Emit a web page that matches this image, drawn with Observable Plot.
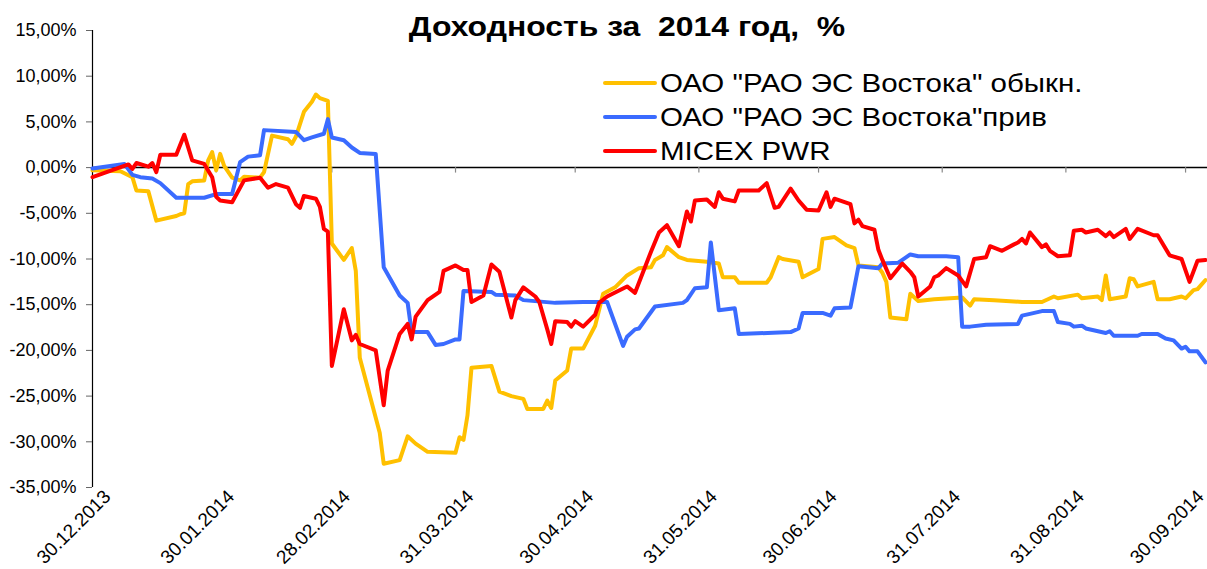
<!DOCTYPE html>
<html><head><meta charset="utf-8">
<script src="https://cdn.jsdelivr.net/npm/d3@7"></script>
<script src="https://cdn.jsdelivr.net/npm/@observablehq/plot@0.6"></script>
<style>
body{margin:0;background:#fff;font-family:"Liberation Sans",Arial,sans-serif;}
#wrap{position:relative;width:1207px;height:569px;overflow:hidden;}
#title{position:absolute;left:0;width:1254px;top:11px;text-align:center;font-weight:bold;font-size:28px;white-space:pre;color:#000;transform:scaleX(1.14);transform-origin:627px 0;}
#legend{position:absolute;left:603px;top:66px;font-size:25px;color:#000;}
.item{display:flex;align-items:center;height:34px;white-space:pre;}
.sw{width:54px;height:4px;border-radius:2px;margin-right:3px;flex:none;}
.tx{display:inline-block;transform:scaleX(1.18);transform-origin:0 50%;}
</style>
</head><body>
<div id="wrap"><div id="chart"></div><div id="title"></div><div id="legend"></div></div>
<script>
const titleText = "Доходность за  2014 год,  %";
const startDate = "2013-12-30";
const endDay = 279.5; // right edge of the plot, days after start
const seriesNames = ["ОАО \"РАО ЭС Востока\" обыкн.", "ОАО \"РАО ЭС Востока\"прив", "MICEX PWR"];
const seriesColors = ["#FFC000", "#3A6BFF", "#FF0000"];
const tickLabels = ["30.12.2013","30.01.2014","28.02.2014","31.03.2014","30.04.2014","31.05.2014","30.06.2014","31.07.2014","31.08.2014","30.09.2014"];
const yTicks = [15,10,5,0,-5,-10,-15,-20,-25,-30,-35];

// [days after 30.12.2013, return %]
const ordinary = [[0,-0.3],[7,-0.4],[10,-1.05],[11,-2.5],[14,-2.6],[16,-5.8],[21,-5.3],[22,-5.1],[23,-5.0],[24,-1.8],[25,-1.5],[28,-1.4],[29,0.8],[30,1.7],[31,-0.3],[32,1.5],[33,0.2],[35,-1.1],[37,-1.4],[38,-1.0],[42,-1.1],[43,-0.5],[45,3.5],[49,3.1],[50,2.6],[51,3.4],[53,6.1],[55,7.2],[56,8.0],[57,7.6],[59,7.3],[60,-8.3],[63,-10.1],[65,-8.8],[66,-11.3],[67,-20.8],[72,-29.0],[73,-32.4],[77,-32.0],[79,-29.4],[81,-30.2],[84,-31.1],[91,-31.2],[92,-29.5],[93,-29.8],[94,-27.1],[95,-21.9],[100,-21.7],[102,-24.5],[105,-25.0],[108,-25.3],[109,-26.4],[113,-26.4],[114,-25.5],[115,-26.3],[116,-23.3],[119,-22.2],[120,-19.8],[123,-19.8],[126,-17.3],[128,-13.8],[131,-13.1],[134,-11.8],[137,-11.0],[140,-10.9],[141,-10.1],[143,-9.6],[144,-8.7],[147,-9.8],[149,-10.1],[154,-10.3],[157,-10.5],[158,-12.0],[161,-12.0],[162,-12.6],[169,-12.6],[170,-12.0],[172,-9.8],[173,-10.0],[177,-10.3],[178,-12.0],[182,-11.1],[183,-7.8],[186,-7.6],[189,-8.5],[191,-8.8],[192,-10.7],[197,-10.9],[198,-11.5],[199,-12.5],[200,-16.4],[204,-16.6],[205,-13.8],[207,-14.6],[211,-14.4],[218,-14.2],[220,-15.1],[221,-14.4],[226,-14.5],[233,-14.7],[238,-14.7],[241,-14.1],[242,-14.3],[247,-13.9],[248,-14.3],[252,-14.1],[253,-14.5],[254,-11.8],[255,-14.4],[259,-14.1],[260,-12.1],[261,-12.2],[262,-13.0],[266,-12.5],[267,-14.4],[270,-14.4],[273,-14.1],[274,-14.3],[276,-13.4],[277,-13.3],[279,-12.3]];
const preferred = [[0,-0.1],[8,0.4],[10,-0.8],[12,-1.05],[15,-1.2],[17,-1.7],[21,-3.3],[28,-3.3],[31,-2.9],[35,-2.9],[37,0.6],[39,1.2],[42,1.35],[43,4.1],[51,3.9],[53,3.0],[55,3.3],[58,3.7],[59,5.3],[60,3.3],[63,3.0],[65,2.2],[67,1.6],[71,1.5],[73,-10.9],[77,-14.0],[79,-14.8],[80,-18.0],[84,-18.0],[86,-19.4],[88,-19.3],[91,-18.8],[92,-18.8],[93,-13.5],[100,-13.6],[101,-13.9],[106,-14.0],[108,-14.5],[116,-14.8],[123,-14.7],[129,-14.7],[133,-19.5],[134,-18.5],[136,-17.7],[137,-17.6],[141,-15.2],[148,-14.8],[149,-14.5],[151,-13.2],[154,-13.1],[155,-8.2],[157,-15.6],[161,-15.4],[162,-18.2],[175,-18.0],[177,-17.6],[178,-15.9],[183,-15.9],[185,-16.2],[186,-15.4],[190,-15.3],[192,-10.8],[197,-11.0],[198,-10.5],[202,-10.4],[205,-9.5],[207,-9.7],[214,-9.7],[217,-9.8],[218,-17.4],[220,-17.4],[224,-17.2],[232,-17.1],[233,-16.2],[235,-16.0],[238,-15.7],[241,-15.7],[242,-16.9],[245,-17.1],[246,-17.4],[248,-17.3],[249,-17.6],[254,-18.1],[255,-17.9],[256,-18.4],[262,-18.4],[263,-18.2],[267,-18.2],[269,-18.7],[271,-18.9],[273,-19.8],[274,-19.6],[275,-20.1],[277,-20.1],[279,-21.3]];
const micex = [[0,-1.05],[9,0.35],[10,-0.15],[11,0.5],[14,0.1],[15,0.5],[16,-0.5],[17,1.4],[21,1.4],[23,3.6],[25,0.8],[28,0.4],[30,-1.05],[31,-3.2],[32,-3.6],[35,-3.8],[38,-1.4],[42,-1.1],[44,-2.2],[46,-1.8],[49,-2.2],[51,-4.0],[52,-4.4],[53,-3.1],[56,-3.4],[57,-4.3],[58,-6.7],[59,-7.0],[60,-21.7],[63,-15.5],[65,-18.9],[66,-18.3],[67,-19.3],[71,-20.0],[73,-26.0],[74,-22.2],[77,-18.2],[79,-17.1],[80,-18.8],[81,-16.3],[84,-14.5],[87,-13.6],[88,-11.3],[91,-10.7],[93,-11.2],[94,-11.2],[95,-14.7],[98,-14.0],[100,-10.6],[102,-11.4],[105,-16.4],[106,-14.5],[108,-13.1],[111,-14.1],[112,-14.7],[114,-17.7],[115,-19.3],[116,-16.8],[119,-16.9],[120,-17.4],[121,-16.8],[123,-17.4],[126,-16.1],[127,-14.8],[129,-14.1],[134,-13.0],[136,-13.7],[140,-9.2],[142,-7.1],[144,-6.3],[147,-8.6],[149,-4.8],[150,-5.9],[151,-3.6],[154,-3.5],[156,-4.3],[157,-2.7],[158,-3.4],[161,-3.7],[162,-2.5],[167,-2.5],[169,-1.7],[171,-4.4],[172,-4.3],[175,-2.3],[177,-3.6],[179,-4.6],[182,-4.7],[184,-2.7],[185,-4.3],[186,-3.4],[190,-4.0],[191,-6.1],[192,-5.7],[193,-6.4],[196,-6.8],[197,-9.0],[198,-10.1],[200,-12.1],[203,-10.5],[205,-11.4],[206,-12.0],[207,-14.1],[210,-13.0],[211,-12.0],[212,-11.8],[214,-11.0],[217,-11.8],[219,-13.0],[221,-10.0],[224,-9.8],[225,-8.6],[228,-9.1],[231,-8.4],[232,-8.2],[233,-7.8],[234,-8.3],[235,-7.1],[238,-8.7],[239,-8.4],[240,-9.1],[242,-9.7],[245,-9.6],[246,-6.9],[248,-6.8],[249,-7.1],[252,-6.8],[254,-7.5],[255,-7.1],[256,-7.6],[259,-6.7],[260,-7.8],[262,-6.7],[266,-7.4],[267,-7.4],[270,-9.6],[273,-10.0],[275,-12.5],[277,-10.2],[279,-10.1]];

const start = new Date(startDate + "T00:00:00Z");
const end = new Date(+start + endDay * 864e5);
const parseTick = d3.utcParse("%d.%m.%Y");
const tickDates = tickLabels.map(parseTick);
const allSeries = [ordinary, preferred, micex];
const rows = allSeries.flatMap((s, k) => s.map(([d, v]) => ({date: d3.utcDay.offset(start, d), value: v, series: seriesNames[k]})));
const pct = d => d.toFixed(2).replace(".", ",").replace("-0,00", "0,00") + "%";

const chart = Plot.plot({
  width: 1207, height: 569,
  marginLeft: 92, marginRight: 0, marginTop: 30, marginBottom: 82,
  style: {fontFamily: "'Liberation Sans', Arial, sans-serif", color: "#000", background: "transparent", overflow: "visible"},
  x: {type: "utc", domain: [start, end]},
  y: {domain: [-35, 15]},
  color: {domain: seriesNames, range: seriesColors},
  marks: [
    Plot.ruleX([start], {stroke: "#000", strokeWidth: 1.2}),
    Plot.ruleY([0], {stroke: "#000", strokeWidth: 1.5}),
    Plot.ruleX(tickDates.slice(1), {y1: 0, y2: -0.6, stroke: "#888", strokeWidth: 1.2}),
    Plot.axisY({ticks: yTicks, tickFormat: pct, tickSize: 6, tickPadding: 10, fontSize: 18, label: null, stroke: "#666"}),
    Plot.axisX({ticks: tickDates, tickFormat: d3.utcFormat("%d.%m.%Y"), tickRotate: -45, tickSize: 0, tickPadding: 6, textAnchor: "end", fontSize: 19, label: null, dx: 15}),
    Plot.line(rows, {x: "date", y: "value", z: "series", stroke: "series", strokeWidth: 4, strokeLinejoin: "round", strokeLinecap: "round"})
  ]
});
document.getElementById("chart").append(chart);
document.getElementById("title").textContent = titleText;
const leg = document.getElementById("legend");
seriesNames.forEach((n, i) => {
  const it = document.createElement("div"); it.className = "item";
  const sw = document.createElement("div"); sw.className = "sw"; sw.style.background = seriesColors[i];
  const tx = document.createElement("span"); tx.className = "tx"; tx.textContent = n;
  it.append(sw, tx); leg.append(it);
});
</script>
</body></html>
